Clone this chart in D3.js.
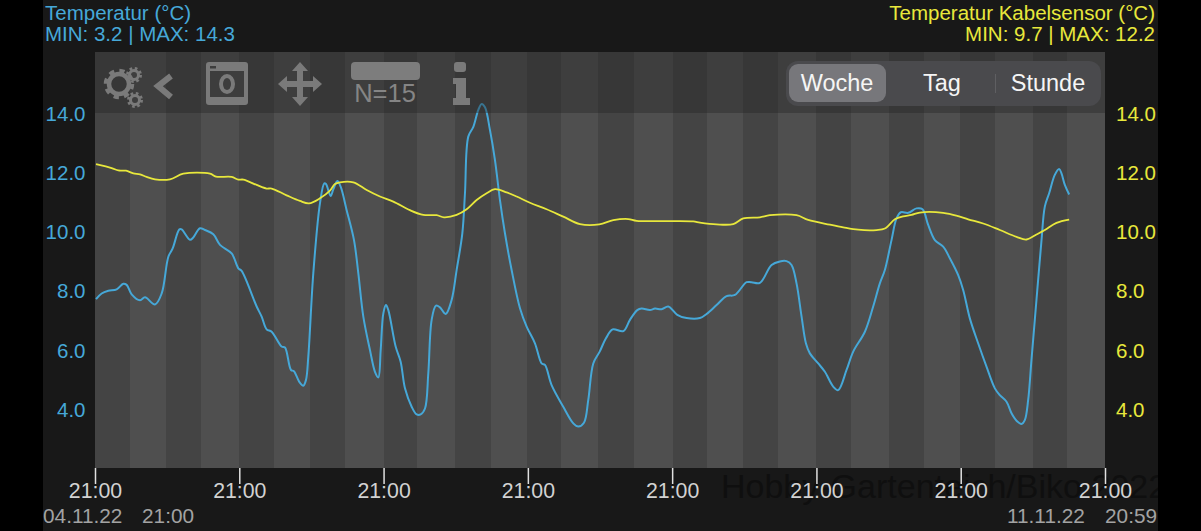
<!DOCTYPE html>
<html><head><meta charset="utf-8">
<script src="https://cdn.jsdelivr.net/npm/d3@7"></script>
<style>html,body{margin:0;background:#000;overflow:hidden}svg{display:block}text{font-family:"Liberation Sans",Arial,sans-serif}</style>
</head><body><div id="c"></div>
<script>
const spanHours=[0,168];
const tickHours=[0,24,48,72,96,120,144,168];
const tickLabels=["21:00","21:00","21:00","21:00","21:00","21:00","21:00","21:00"];
const yTicks=[4,6,8,10,12,14];
const bandEdges=[0,5.8,11.8,17.6,24,29.8,35.8,41.6,48,53.6,59.9,65.9,71.9,77.5,83.7,89.6,96.1,101.8,107.8,113.6,119.9,125.7,132.1,137.9,143.9,149.7,156,161.7,168];
const blueHours=[0.17,1.11,2.22,3.6,4.71,5.27,6.1,7.49,8.32,9.98,11.09,12.2,12.92,14.03,14.41,15.8,16.35,17.46,18.29,19.68,20.79,22.73,23.84,24.39,26.89,27.72,28.55,29.38,31.04,31.6,32.6,33.09,33.98,34.65,35.09,35.48,36.31,37.42,38.14,38.42,39.19,39.64,40.31,40.86,41.86,43.08,43.8,44.63,45.74,46.57,47.13,47.52,47.96,48.4,48.79,50.01,50.84,51.56,52.67,53.5,54.17,54.89,55.44,56,56.72,57.38,58.33,59.32,60.15,61.1,61.54,62.09,62.93,63.76,64.31,64.87,65.7,66.53,67.36,68.19,69.3,70.69,71.8,73.18,74.29,74.84,75.95,77.89,79.56,80.39,81.33,82.05,82.88,83.95,84.99,86.1,87.87,88.98,90.2,90.92,92.3,93.14,94.25,95.35,96.85,98.4,100.62,101.73,103.39,105.05,106.44,108.38,109.21,110.6,112.54,113.92,115.03,115.86,116.69,117.53,118.25,118.91,120.3,121.41,122.79,123.62,125.01,126.12,128.06,129.44,130.55,131.38,132.49,133.32,134.04,135.26,136.65,137.65,138.59,139.7,141.08,142.19,143.58,144.41,145.52,146.9,148.29,149.68,150.51,151.62,152.45,153.28,154.11,154.66,155.22,155.77,156.6,157.44,157.99,158.71,159.65,160.37,160.76,161.32,162.04];
const blueValues=[7.74,7.93,8.02,8.07,8.26,8.22,7.9,7.7,7.8,7.56,7.93,9.17,9.45,10.09,10.09,9.74,9.82,10.13,10.07,9.93,9.57,9.28,8.78,8.69,7.49,7.15,6.72,6.64,6.14,6.11,5.35,5.31,4.95,4.82,5.01,5.8,8.61,10.97,11.64,11.62,11.22,11.44,11.72,11.53,10.74,9.73,8.61,7.15,6.02,5.29,5.1,6.02,7.26,7.54,7.37,6.14,5.63,4.73,4.11,3.85,3.85,4.05,5.24,7.04,7.52,7.46,7.24,7.71,8.72,9.96,11.31,13.22,13.55,14.12,14.32,14.21,13.44,12.43,11.08,9.96,8.72,7.43,6.81,6.25,5.57,5.52,4.84,4.11,3.55,3.44,3.57,4.34,5.57,5.97,6.42,6.72,6.66,7.04,7.37,7.42,7.37,7.42,7.4,7.49,7.21,7.1,7.1,7.24,7.54,7.84,7.88,8.31,8.31,8.29,8.89,9.01,9.02,8.89,8.27,7.15,6.25,5.91,5.57,5.29,4.79,4.67,5.35,5.97,6.64,7.49,8.27,8.72,9.73,10.46,10.67,10.65,10.8,10.77,10.24,9.73,9.51,9.12,8.55,8.05,7.09,6.25,5.46,4.73,4.5,4.28,3.89,3.64,3.53,3.66,4.34,5.69,7.71,9.73,10.86,11.31,11.93,12.13,11.98,11.59,11.27];
const yellowHours=[0.17,2.77,3.88,5.16,6.38,7.49,8.59,9.98,12.47,14.69,19.13,20.12,22.73,23.84,24.67,26.89,28.55,29.38,31.87,34.09,35.59,37.42,39.08,39.92,40.75,42.97,45.19,47.4,49.62,52.39,54.61,56.83,58.05,60.15,61.82,63.48,65.14,66.53,68.47,70.13,72.35,75.12,77.89,80.67,83.88,86.21,88.7,90.09,95.08,99.51,100.62,103.39,106.16,107.83,110.6,112.26,116.69,118.63,122.24,124.46,126.95,130,131.38,133.05,134.43,135.82,137.2,141.08,143.58,145.24,147.74,150.51,153.28,154.94,156.6,157.99,159.93,162.04];
const yellowValues=[12.29,12.16,12.08,12.07,11.98,11.95,11.86,11.78,11.78,11.97,11.97,11.87,11.86,11.77,11.77,11.59,11.47,11.47,11.24,11.05,10.97,11.14,11.4,11.62,11.68,11.68,11.42,11.2,11.03,10.74,10.58,10.57,10.5,10.58,10.77,11.08,11.31,11.45,11.34,11.2,10.99,10.77,10.52,10.27,10.26,10.4,10.44,10.38,10.37,10.36,10.32,10.26,10.27,10.46,10.5,10.57,10.57,10.41,10.25,10.16,10.08,10.07,10.12,10.43,10.53,10.58,10.66,10.65,10.54,10.43,10.29,10.07,9.84,9.75,9.92,10.07,10.31,10.42];
const C={blue:"#46a8d8",yellow:"#e8e83c"};

const svg=d3.select("#c").append("svg").attr("width",1201).attr("height",531);
const x=d3.scaleLinear().domain(spanHours).range([95,1105]);
const y=d3.scaleLinear().domain([4,14]).range([410,113.5]);
const plotTop=52,plotBottom=468;

svg.append("rect").attr("x",43).attr("y",0).attr("width",1115).attr("height",531).attr("fill","#181818");
svg.append("defs").append("clipPath").attr("id","pc").append("rect").attr("x",43).attr("y",0).attr("width",1115).attr("height",531);
svg.append("text").attr("clip-path","url(#pc)").attr("x",721).attr("y",498).attr("font-size",34).attr("fill","#0f0f0f").text("Hobby-Gartenteich/Biko 2022");

svg.append("g").attr("shape-rendering","crispEdges").selectAll("rect").data(d3.pairs(bandEdges)).join("rect")
 .attr("x",d=>Math.round(x(d[0]))).attr("width",d=>Math.round(x(d[1]))-Math.round(x(d[0]))).attr("y",plotTop).attr("height",plotBottom-plotTop)
 .attr("fill",(d,i)=>i%2?"#4f4f4f":"#444444");

const line=d3.line().curve(d3.curveCatmullRom.alpha(0.5)).x(d=>x(d[0])).y(d=>y(d[1]));
svg.append("path").datum(d3.zip(blueHours,blueValues)).attr("d",line).attr("fill","none").attr("stroke",C.blue).attr("stroke-width",2).attr("stroke-linejoin","round");
svg.append("path").datum(d3.zip(yellowHours,yellowValues)).attr("d",line).attr("fill","none").attr("stroke",C.yellow).attr("stroke-width",1.8).attr("stroke-linejoin","round");

svg.append("rect").attr("x",95).attr("y",plotTop).attr("width",1010).attr("height",113-plotTop).attr("fill","#262626").attr("fill-opacity",.4);

const xa=svg.append("g").attr("transform",`translate(0,${plotBottom})`).call(d3.axisBottom(x).tickValues(tickHours).tickFormat((d,i)=>tickLabels[i]).tickSize(16).tickPadding(1));
xa.select(".domain").remove();
xa.selectAll("line").attr("stroke","#e0e0e0").attr("stroke-width",1.5);
xa.selectAll("text").attr("font-size",21.3).attr("fill","#d2d2d2").attr("y",15).attr("dy","0.72em");
const yl=svg.append("g").attr("transform","translate(85.5,0)").call(d3.axisLeft(y).tickValues(yTicks).tickFormat(d3.format(".1f")).tickSize(0).tickPadding(0));
yl.select(".domain").remove();yl.selectAll("text").attr("font-size",20.5).attr("fill",C.blue);
const yr=svg.append("g").attr("transform","translate(1116,0)").call(d3.axisRight(y).tickValues(yTicks).tickFormat(d3.format(".1f")).tickSize(0).tickPadding(0));
yr.select(".domain").remove();yr.selectAll("text").attr("font-size",20.5).attr("fill",C.yellow);

const T=(s,px,py,fs,fill,anchor)=>svg.append("text").attr("x",px).attr("y",py).attr("font-size",fs).attr("fill",fill).attr("text-anchor",anchor||"start").text(s);
T("Temperatur (°C)",45,20,20.5,C.blue);
T("MIN: 3.2 | MAX: 14.3",45,41,20.5,C.blue);
T("Temperatur Kabelsensor (°C)",1155,20,20.5,C.yellow,"end");
T("MIN: 9.7 | MAX: 12.2",1155,41,20.5,C.yellow,"end");
T("04.11.22",43,523,20.8,"#a3a3a3");
T("21:00",142,523,20.8,"#a3a3a3");
T("11.11.22",1007,523,20.8,"#a3a3a3");
T("20:59",1105,523,20.8,"#a3a3a3");

const ic="#7a7a7a";
const gear=(cx,cy,r,w)=>{
 svg.append("circle").attr("cx",cx).attr("cy",cy).attr("r",r+w*.15).attr("fill","none").attr("stroke",ic).attr("stroke-width",w*.95).attr("stroke-dasharray",`${(2*Math.PI*(r+w*.15))/16} ${(2*Math.PI*(r+w*.15))/16}`);
 svg.append("circle").attr("cx",cx).attr("cy",cy).attr("r",r-w*.25).attr("fill","none").attr("stroke",ic).attr("stroke-width",w*.75);
};
gear(119,84,11.5,6);gear(134,75,5.5,4);gear(135,100,5.5,4);
svg.append("path").attr("d","M171,76 L158,86 L171,97").attr("fill","none").attr("stroke",ic).attr("stroke-width",6);
svg.append("rect").attr("x",206).attr("y",62).attr("width",42).attr("height",43).attr("rx",3).attr("fill",ic);
svg.append("rect").attr("x",210).attr("y",71).attr("width",34).attr("height",26).attr("fill","#3d3d3d");
svg.append("rect").attr("x",210).attr("y",66).attr("width",6).attr("height",2.5).attr("fill","#3d3d3d");
svg.append("ellipse").attr("cx",227).attr("cy",84).attr("rx",8).attr("ry",10).attr("fill",ic);
svg.append("ellipse").attr("cx",227).attr("cy",84).attr("rx",4).attr("ry",6).attr("fill","#3d3d3d");
svg.append("path").attr("fill",ic).attr("d","M300,62 L308,71 L303,71 L303,81 L313,81 L313,76 L322,84 L313,92 L313,87 L303,87 L303,97 L308,97 L300,106 L292,97 L297,97 L297,87 L287,87 L287,92 L278,84 L287,76 L287,81 L297,81 L297,71 L292,71 Z");
svg.append("rect").attr("x",351).attr("y",62).attr("width",69).attr("height",18).attr("rx",4).attr("fill","#7d7d7d");
T("N=15",385,102,25.5,"#858585","middle");
svg.append("rect").attr("x",454).attr("y",62).attr("width",12).attr("height",10).attr("rx",3).attr("fill",ic);
svg.append("path").attr("fill",ic).attr("d","M453,78 L466,78 L466,98 L470,98 L470,105 L453,105 L453,98 L456,98 L456,84 L453,84 Z");

svg.append("rect").attr("x",786).attr("y",61).attr("width",315).attr("height",45).attr("rx",12).attr("fill","#4a4a4d");
svg.append("rect").attr("x",789).attr("y",64).attr("width",97).attr("height",38).attr("rx",9).attr("fill","#77777b");
svg.append("line").attr("x1",995.5).attr("x2",995.5).attr("y1",74).attr("y2",93).attr("stroke","#5f5f62").attr("stroke-width",1);
T("Woche",837,91,23.5,"#f5f5f5","middle");
T("Tag",942,91,23.5,"#f5f5f5","middle");
T("Stunde",1048,91,23.5,"#f5f5f5","middle");
</script></body></html>
